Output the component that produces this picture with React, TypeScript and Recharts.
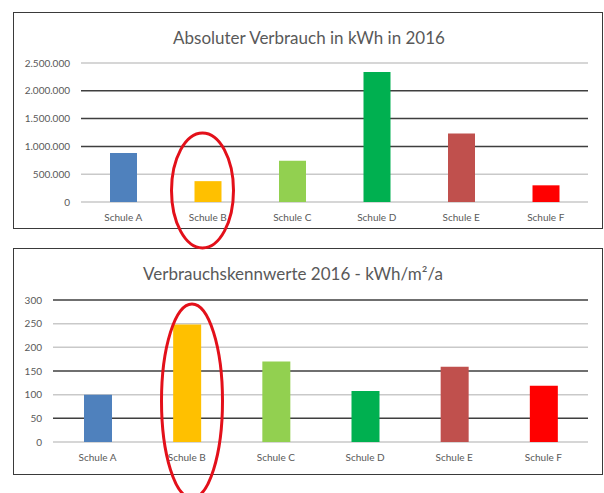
import React from 'react';
import { BarChart, Bar, XAxis, YAxis, CartesianGrid, Cell } from 'recharts';

const schools = ['Schule A', 'Schule B', 'Schule C', 'Schule D', 'Schule E', 'Schule F'];
const absoluteKWh = [880000, 375000, 740000, 2340000, 1230000, 300000];
const kennwerte = [100, 248, 170, 108, 159, 119];
const barColors = ['#4F81BD', '#FFC000', '#92D050', '#00B050', '#C0504D', '#FF0000'];

const absTicks = [0, 500000, 1000000, 1500000, 2000000, 2500000];
const absTickLabels = ['0', '500.000', '1.000.000', '1.500.000', '2.000.000', '2.500.000'];
const absGridDark = [false, false, true, true, true, false];

const kwTicks = [0, 50, 100, 150, 200, 250, 300];
const kwTickLabels = ['0', '50', '100', '150', '200', '250', '300'];
const kwGridDark = [false, true, false, true, false, false, true];

const titleTop = 'Absoluter Verbrauch in kWh in 2016';
const titleBottom = 'Verbrauchskennwerte 2016 - kWh/m²/a';

const absData = schools.map((name, i) => ({ name, value: absoluteKWh[i] }));
const kwData = schools.map((name, i) => ({ name, value: kennwerte[i] }));

const FONT = 'Lato, "Open Sans", sans-serif';
const DARK = '#3f3f3f';
const LIGHT = '#c9c9c9';
const TICK = { fill: '#595959', fontSize: 10, fontFamily: FONT };

function gridRenderer(dark: boolean[]) {
  return (props: any) => {
    const idx = props.index;
    return (
      <line
        key={props.key ?? idx}
        x1={props.x1}
        x2={props.x2}
        y1={props.y1}
        y2={props.y2}
        stroke={dark[idx] ? DARK : LIGHT}
        strokeWidth={1.5}
      />
    );
  };
}

function ChartBox({ top, left, width, height }: { top: number; left: number; width: number; height: number }) {
  return (
    <div
      style={{
        position: 'absolute',
        top,
        left,
        width,
        height,
        border: '1.5px solid #3a3a3a',
        boxSizing: 'border-box',
        background: '#fff',
      }}
    />
  );
}

export default function App() {
  return (
    <div style={{ position: 'absolute', left: 0, top: 0, width: 604, height: 493, background: '#fff', overflow: 'hidden' }}>
      <ChartBox top={12} left={13} width={590} height={217} />
      <ChartBox top={248} left={13} width={590} height={227} />

      <div style={{ position: 'absolute', left: 0, top: 0 }}>
        <BarChart width={604} height={240} data={absData} margin={{ top: 63, right: 16, left: 0, bottom: 8 }}>
          <CartesianGrid vertical={false} horizontal={gridRenderer(absGridDark)} />
          <XAxis dataKey="name" axisLine={false} tickLine={false} tick={TICK} height={30} tickMargin={6} interval={0} />
          <YAxis
            width={81}
            domain={[0, 2500000]}
            ticks={absTicks}
            axisLine={false}
            tickLine={false}
            tick={TICK}
            tickMargin={5}
            tickFormatter={(v: number) => absTickLabels[absTicks.indexOf(v)]}
          />
          <Bar dataKey="value" barSize={27} isAnimationActive={false}>
            {absData.map((d, i) => (
              <Cell key={d.name} fill={barColors[i]} />
            ))}
          </Bar>
        </BarChart>
      </div>

      <div style={{ position: 'absolute', left: 0, top: 240 }}>
        <BarChart width={604} height={240} data={kwData} margin={{ top: 60, right: 16, left: 0, bottom: 8 }}>
          <CartesianGrid vertical={false} horizontal={gridRenderer(kwGridDark)} />
          <XAxis dataKey="name" axisLine={false} tickLine={false} tick={TICK} height={30} tickMargin={6} interval={0} />
          <YAxis
            width={53}
            domain={[0, 300]}
            ticks={kwTicks}
            axisLine={false}
            tickLine={false}
            tick={TICK}
            tickMargin={5}
            tickFormatter={(v: number) => kwTickLabels[kwTicks.indexOf(v)]}
          />
          <Bar dataKey="value" barSize={28} isAnimationActive={false}>
            {kwData.map((d, i) => (
              <Cell key={d.name} fill={barColors[i]} />
            ))}
          </Bar>
        </BarChart>
      </div>

      <svg width={604} height={493} style={{ position: 'absolute', left: 0, top: 0, pointerEvents: 'none' }}>
        <text x={309} y={37} textAnchor="middle" dominantBaseline="central" fontFamily={FONT} fontSize={17} fill="#595959">
          {titleTop}
        </text>
        <text x={293} y={273} textAnchor="middle" dominantBaseline="central" fontFamily={FONT} fontSize={17} fill="#595959">
          {titleBottom}
        </text>
        <ellipse cx={202.5} cy={190.5} rx={31} ry={57.5} fill="none" stroke="#e3101a" strokeWidth={3} />
        <ellipse cx={192} cy={401} rx={30.5} ry={97} fill="none" stroke="#e3101a" strokeWidth={3} />
      </svg>
    </div>
  );
}
